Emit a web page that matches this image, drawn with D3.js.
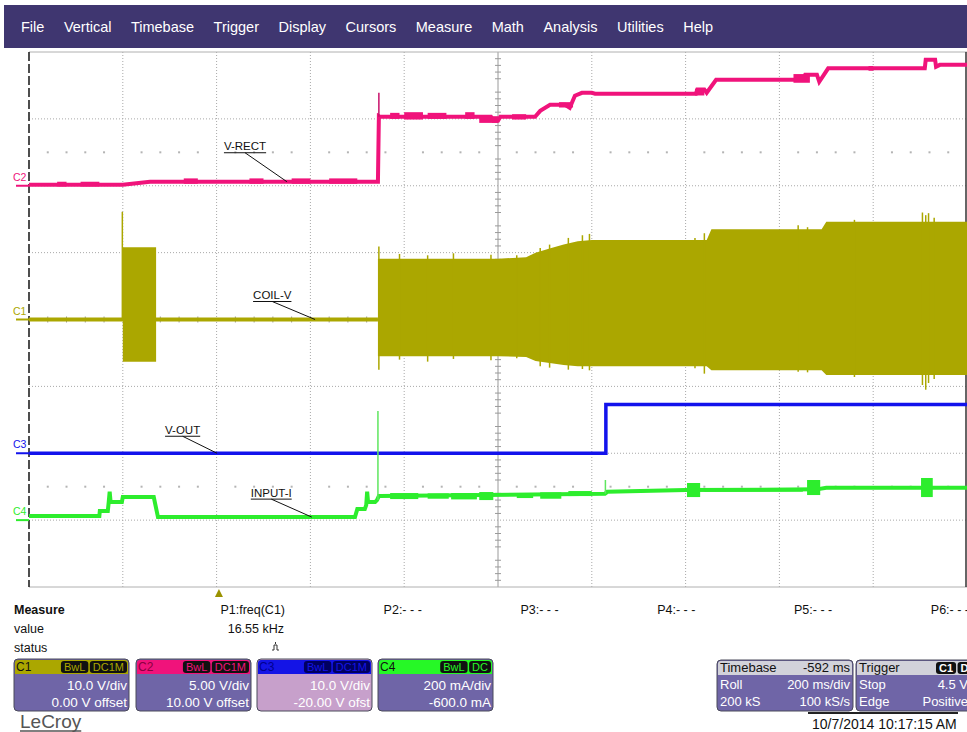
<!DOCTYPE html>
<html><head><meta charset="utf-8">
<script src="https://cdn.jsdelivr.net/npm/d3@7"></script>
<style>
body{margin:0;background:#fff;}
svg{display:block;font-family:"Liberation Sans",Arial,Helvetica,sans-serif;}
</style>
</head><body>
<svg id="c" width="967" height="732"></svg>
<script>
// ---------------- DATA ----------------
const menuItems = ["File","Vertical","Timebase","Trigger","Display","Cursors","Measure","Math","Analysis","Utilities","Help"];

// time in ms across the screen (200 ms/div, 10 div)
const timeDomain = [0, 2000];

// C2  V-RECT (volts)
const vrectT = [0,200,258,744,746,748,985,990,1000,1005,1079,1090,1111,1143,1153,1164,1179,1200,1207,1422,1425,1440,1445,1465,1650,1655,1680,1685,1704,1910,1912,1932,1934,1942,2000];
const vrectV = [0.07,0.07,0.3,0.3,5.2,5.16,5.16,4.86,4.86,5.16,5.16,5.6,6.05,6.05,5.83,6.73,6.95,6.95,6.88,6.88,7.2,7.2,6.95,7.92,7.92,8.3,8.3,7.77,8.78,8.78,9.42,9.42,8.9,9.04,9.04];
const vrectSpikeT = [746];
const vrectSpikeFrom = [5.16];
const vrectSpikeTo = [6.95];
// noisy patches on V-RECT: start, end, high, low (V)
const vrectNoiseStart = [60,110,330,470,560,640,770,800,850,930,960,1030,1130,1420,1630,1790];
const vrectNoiseEnd   = [80,150,360,500,600,700,790,840,890,950,1000,1060,1160,1440,1665,1800];
const vrectNoiseHigh  = [0.3,0.3,0.55,0.55,0.55,0.55,5.45,5.5,5.45,5.5,5.2,5.35,6.25,7.25,8.35,8.95];
const vrectNoiseLow   = [-0.05,-0.05,0.15,0.15,0.15,0.15,5.0,4.95,5.0,5.0,4.7,4.95,5.85,6.75,7.7,8.6];

// C1  COIL-V (volts): baseline, start-up burst, switching envelope, spikes
const coilBaseT = [0, 744];
const coilBaseV = [0, 0];
const coilBurstT = [200, 271];
const coilBurstHi = [10.8, 10.8];
const coilBurstLo = [-6.3, -6.3];
const coilEnvT  = [744,1000,1060,1080,1110,1140,1170,1200,1445,1455,1690,1700,2000];
const coilEnvHi = [9.1,9.1,9.3,10.0,10.6,11.2,11.7,11.9,11.9,13.5,13.5,14.6,14.6];
const coilEnvLo = [-5.5,-5.5,-5.6,-6.2,-6.5,-6.8,-7.0,-7.0,-7.0,-7.6,-7.6,-8.3,-8.3];
const coilSpikeT  = [199,746,790,850,905,985,1040,1090,1110,1150,1180,1195,1420,1440,1640,1660,1760,1905,1912,1918,1930];
const coilSpikeHi = [16.1,10.9,9.8,9.6,9.9,9.7,9.6,10.7,11.2,12.2,12.6,12.8,12.2,12.9,14.1,13.8,14.9,16.0,15.6,15.9,15.2];
const coilSpikeLo = [0,-7.5,-6.0,-6.3,-5.9,-6.1,-5.8,-7.0,-7.2,-7.5,-7.4,-7.6,-7.3,-8.1,-7.8,-7.9,-8.6,-9.8,-10.5,-9.5,-8.9];

// C3  V-OUT (volts)
const voutT = [0, 1230, 1230, 2000];
const voutV = [0, 0, 7.3, 7.3];

// C4  INPUT-I (mA)
const inputT = [0,150,151,168,170,172,174,198,200,266,275,695,700,716,719,721,723,738,742,746,748,1228,1231,1233,1400,1680,1700,2000];
const inputI = [12,12,27,27,54,85,54,54,69,69,9,9,33,33,45,85,54,54,60,72,72,79,82,85,90,92,97,97];
const inputSpikeT = [744, 1229];
const inputSpikeFrom = [60, 79];
const inputSpikeTo = [326, 120];
const inputBlobStart = [770,850,900,960,1040,1090,1150,1403,1440,1659,1700,1902];
const inputBlobEnd   = [830,895,955,990,1075,1135,1200,1431,1650,1687,1890,1927];
const inputBlobHigh  = [81,80,81,84,80,83,87,111,95,120,100,126];
const inputBlobLow   = [63,64,62,60,66,64,72,69,85,75,93,69];

// channel settings
const chNames   = ["C1","C2","C3","C4"];
const chPerDiv  = [10, 5, 10, 200];
const chOffset  = [0, 10, -20, -600];
const chScaleText  = ["10.0 V/div","5.00 V/div","10.0 V/div","200 mA/div"];
const chOffsetText = ["0.00 V offset","10.00 V offset","-20.00 V ofst","-600.0 mA"];
const chBadges = [["BwL","DC1M"],["BwL","DC1M"],["BwL","DC1M"],["BwL","DC"]];

// annotations: label, channel index, time of leader end
const annoText = ["V-RECT","COIL-V","V-OUT","INPUT-I"];
const annoCh   = [1, 0, 2, 3];
const annoT    = [550, 610, 401, 603];

// measurement readouts
const paramLabels = ["P1:freq(C1)","P2:- - -","P3:- - -","P4:- - -","P5:- - -","P6:- - -"];
const paramValues = ["16.55 kHz","","","","",""];
const triggerT = 405;

const timebaseRows = [["Timebase","-592 ms"],["Roll","200 ms/div"],["200 kS","100 kS/s"]];
const triggerRows = [["Trigger",""],["Stop","4.5 V"],["Edge","Positive"]];
const dateText = "10/7/2014 10:17:15 AM";

// ---------------- DRAW ----------------
const svg = d3.select("#c");
const colors = {C1:"#aba700", C2:"#f0137b", C3:"#1212ec", C4:"#2ded2d"};
const chColor = [colors.C1, colors.C2, colors.C3, colors.C4];

const x = d3.scaleLinear().domain(timeDomain).range([29, 967]);
const yDiv = d3.scaleLinear().domain([-4, 4]).range([587, 52]);
const yCh = i => v => yDiv((v + chOffset[i]) / chPerDiv[i]);

// menu bar
svg.append("rect").attr("x",4).attr("y",5).attr("width",963).attr("height",43).attr("fill","#3f3670");
let mx = 21;
menuItems.forEach(m => {
  const t = svg.append("text").attr("x",mx).attr("y",32).attr("fill","#fff").attr("font-size",14.5).text(m);
  mx += t.node().getComputedTextLength() + 19.5;
});

// grid
const g = svg.append("g");
const divsX = d3.range(1, 10);
const divsY = d3.range(-3, 4);
g.selectAll(".vx").data(divsX.filter(d=>d!==5)).join("line")
  .attr("x1",d=>x(d*200)).attr("x2",d=>x(d*200)).attr("y1",52).attr("y2",587)
  .attr("stroke","#a8a8a8").attr("stroke-dasharray","1,2");
g.selectAll(".hy").data(divsY.filter(d=>d!==0)).join("line")
  .attr("y1",d=>yDiv(d)).attr("y2",d=>yDiv(d)).attr("x1",29).attr("x2",967)
  .attr("stroke","#a8a8a8").attr("stroke-dasharray","1,2");
// center axes with ticks
g.append("line").attr("x1",x(1000)).attr("x2",x(1000)).attr("y1",52).attr("y2",587).attr("stroke","#9a9a9a");
g.append("line").attr("y1",yDiv(0)).attr("y2",yDiv(0)).attr("x1",29).attr("x2",967).attr("stroke","#9a9a9a");
g.selectAll(".tky").data(d3.range(-40,41).filter(d=>d%5!==0)).join("line")
  .attr("x1",x(1000)-3).attr("x2",x(1000)+3).attr("y1",d=>yDiv(d/10)).attr("y2",d=>yDiv(d/10))
  .attr("stroke","#9a9a9a");
g.selectAll(".tkx").data(d3.range(0,51).filter(d=>d%5!==0)).join("line")
  .attr("x1",d=>x(d*40)).attr("x2",d=>x(d*40)).attr("y1",yDiv(0)-3).attr("y2",yDiv(0)+3).attr("stroke","#9a9a9a");
// dot rows
[2.5,-2.5].forEach(r=>{
  g.selectAll(null).data(d3.range(1,50).filter(d=>d%5!==0)).join("rect")
    .attr("x",d=>x(d*40)-1).attr("y",yDiv(r)-1).attr("width",2).attr("height",2).attr("fill","#b4b4b4");
});
// frame
g.append("line").attr("x1",29).attr("x2",967).attr("y1",52).attr("y2",52).attr("stroke","#b0b0b0");
g.append("line").attr("x1",29).attr("x2",967).attr("y1",587).attr("y2",587).attr("stroke","#b0b0b0");
g.append("line").attr("x1",29).attr("x2",29).attr("y1",52).attr("y2",587).attr("stroke","#222").attr("stroke-width",1.6).attr("stroke-dasharray","9,3");
g.append("line").attr("x1",966).attr("x2",966).attr("y1",52).attr("y2",587).attr("stroke","#333").attr("stroke-width",1.5);

const zip = (a,b) => a.map((d,i)=>[d,b[i]]);
const lineFor = i => d3.line().x(d=>x(d[0])).y(d=>yCh(i)(d[1]));

// C1 COIL-V
const y1 = yCh(0);
svg.append("path").datum(zip(coilBaseT,coilBaseV)).attr("d",lineFor(0)).attr("fill","none").attr("stroke",colors.C1).attr("stroke-width",4);
const area1 = d3.area().x(d=>x(d[0])).y0(d=>y1(d[2])).y1(d=>y1(d[1]));
svg.append("path").datum(coilBurstT.map((t,i)=>[t,coilBurstHi[i],coilBurstLo[i]])).attr("d",area1).attr("fill",colors.C1);
svg.append("path").datum(coilEnvT.map((t,i)=>[t,coilEnvHi[i],coilEnvLo[i]])).attr("d",area1).attr("fill",colors.C1);
svg.selectAll(".c1s").data(coilSpikeT.map((t,i)=>[t,coilSpikeHi[i],coilSpikeLo[i]])).join("line")
  .attr("x1",d=>x(d[0])).attr("x2",d=>x(d[0])).attr("y1",d=>y1(d[1])).attr("y2",d=>y1(d[2]))
  .attr("stroke",colors.C1).attr("stroke-width",1.5);

// C2 V-RECT
const y2 = yCh(1);
svg.append("path").datum(zip(vrectT,vrectV)).attr("d",lineFor(1)).attr("fill","none").attr("stroke",colors.C2).attr("stroke-width",4);
svg.selectAll(".c2n").data(vrectNoiseStart.map((t,i)=>[t,vrectNoiseEnd[i],vrectNoiseHigh[i],vrectNoiseLow[i]])).join("rect")
  .attr("x",d=>x(d[0])).attr("width",d=>x(d[1])-x(d[0])).attr("y",d=>y2(d[2])).attr("height",d=>y2(d[3])-y2(d[2]))
  .attr("fill",colors.C2);
svg.selectAll(".c2s").data(vrectSpikeT.map((t,i)=>[t,vrectSpikeFrom[i],vrectSpikeTo[i]])).join("line")
  .attr("x1",d=>x(d[0])).attr("x2",d=>x(d[0])).attr("y1",d=>y2(d[1])).attr("y2",d=>y2(d[2]))
  .attr("stroke","#c8106a").attr("stroke-width",1.5);

// C3 V-OUT
svg.append("path").datum(zip(voutT,voutV)).attr("d",lineFor(2)).attr("fill","none").attr("stroke",colors.C3).attr("stroke-width",3.5);

// C4 INPUT-I
const y4 = yCh(3);
svg.append("path").datum(zip(inputT,inputI)).attr("d",lineFor(3)).attr("fill","none").attr("stroke",colors.C4).attr("stroke-width",4);
svg.selectAll(".c4b").data(inputBlobStart.map((t,i)=>[t,inputBlobEnd[i],inputBlobHigh[i],inputBlobLow[i]])).join("rect")
  .attr("x",d=>x(d[0])).attr("width",d=>x(d[1])-x(d[0])).attr("y",d=>y4(d[2])).attr("height",d=>y4(d[3])-y4(d[2]))
  .attr("fill",colors.C4);
svg.selectAll(".c4s").data(inputSpikeT.map((t,i)=>[t,inputSpikeFrom[i],inputSpikeTo[i]])).join("line")
  .attr("x1",d=>x(d[0])).attr("x2",d=>x(d[0])).attr("y1",d=>y4(d[1])).attr("y2",d=>y4(d[2]))
  .attr("stroke","#5fe65f").attr("stroke-width",1.5);

// channel markers on the left
chNames.forEach((n,i)=>{
  const yy = yCh(i)(0);
  svg.append("line").attr("x1",16).attr("x2",29).attr("y1",yy).attr("y2",yy).attr("stroke",chColor[i]).attr("stroke-width",2);
  svg.append("text").attr("x",13).attr("y",yy-5).attr("font-size",10.5).attr("fill",chColor[i]).text(n);
});

// trace annotations
function valueAt(ch, t){
  if(ch===1){ return d3.scaleLinear().domain(vrectT).range(vrectV)(t); }
  if(ch===2){ return t<1230?0:7.3; }
  if(ch===3){ return 9; }
  return 0;
}
const annoDx = [63, 62, 52, 61];
const annoDy = [29, 18, 17, 18];
annoText.forEach((txt,i)=>{
  const ch = annoCh[i];
  const ex = x(annoT[i]);
  const ey = yCh(ch)(valueAt(ch, annoT[i]));
  const t = svg.append("text").attr("font-size",11.5).attr("fill","#111").text(txt);
  const w = t.node().getComputedTextLength();
  const ux = ex - annoDx[i];
  const uy = ey - annoDy[i];
  t.attr("x",ux).attr("y",uy-2.5);
  svg.append("line").attr("x1",ux).attr("x2",ux+w).attr("y1",uy).attr("y2",uy).attr("stroke","#111").attr("stroke-width",1);
  svg.append("line").attr("x1",ux+w/2).attr("y1",uy).attr("x2",ex).attr("y2",ey).attr("stroke","#111").attr("stroke-width",1);
});

// trigger marker
svg.append("path").attr("d",`M${x(triggerT)-4},597 L${x(triggerT)+4},597 L${x(triggerT)},589 Z`).attr("fill","#9a9200");

// Measure area
svg.append("text").attr("x",14).attr("y",614).attr("font-size",12.5).attr("font-weight","bold").attr("fill","#111").text("Measure");
svg.append("text").attr("x",14).attr("y",633).attr("font-size",12.5).attr("fill","#111").text("value");
svg.append("text").attr("x",14).attr("y",652).attr("font-size",12.5).attr("fill","#111").text("status");
paramLabels.forEach((p,i)=>{
  const rx = 285 + i*136.8;
  svg.append("text").attr("x",rx).attr("y",614).attr("text-anchor","end").attr("font-size",12.5).attr("fill","#111").text(p);
  if(paramValues[i]) svg.append("text").attr("x",rx-1).attr("y",633).attr("text-anchor","end").attr("font-size",12.5).attr("fill","#111").text(paramValues[i]);
});
svg.append("path").attr("d","M272,650 h2 v-5 h3 v5 h2").attr("fill","none").attr("stroke","#333").attr("stroke-width",1);
svg.append("line").attr("x1",275.5).attr("x2",275.5).attr("y1",642).attr("y2",644).attr("stroke","#333");

// Channel boxes
const boxX = [14, 136, 257, 378];
const boxW = 115;
const headCol = [colors.C1, colors.C2, "#1414e6", "#26f826"];
const nameCol = ["#111", "#8a0040", "#000090", "#111"];
const badgeText = [colors.C1, colors.C2, "#1414e6", "#26f826"];
const badgeFill = ["#111","#111","#000060","#111"];
const bodyCol = ["#6f65a7","#6f65a7","#c7a0cb","#6f65a7"];
chNames.forEach((n,i)=>{
  const bx = boxX[i], by = 659, bh = 52;
  svg.append("rect").attr("x",bx).attr("y",by).attr("width",boxW).attr("height",bh).attr("rx",4).attr("fill",bodyCol[i]).attr("stroke","#4a4a5a").attr("stroke-width",1);
  svg.append("rect").attr("x",bx+1).attr("y",by+1).attr("width",boxW-2).attr("height",14).attr("rx",3).attr("fill",headCol[i]);
  svg.append("rect").attr("x",bx+1).attr("y",by+8).attr("width",boxW-2).attr("height",7).attr("fill",headCol[i]);
  svg.append("text").attr("x",bx+2).attr("y",by+12).attr("font-size",12).attr("fill",nameCol[i]).text(n);
  let right = bx + boxW - 2;
  chBadges[i].slice().reverse().forEach(b=>{
    const t = svg.append("text").attr("font-size",11).attr("fill",badgeText[i]).attr("text-anchor","middle").text(b);
    const w = t.node().getComputedTextLength() + 6;
    svg.insert("rect", () => t.node()).attr("x",right-w).attr("y",by+2).attr("width",w).attr("height",12).attr("rx",3).attr("fill",badgeFill[i]);
    t.attr("x",right-w/2).attr("y",by+12);
    right -= w + 1.5;
  });
  svg.append("text").attr("x",bx+boxW-2).attr("y",690).attr("text-anchor","end").attr("font-size",13.5).attr("fill","#fff").text(chScaleText[i]);
  svg.append("text").attr("x",bx+boxW-2).attr("y",707).attr("text-anchor","end").attr("font-size",13.5).attr("fill","#fff").text(chOffsetText[i]);
});

// timebase & trigger boxes
function infoBox(bx, bw, rows, badges){
  const by = 660, bh = 51;
  svg.append("rect").attr("x",bx).attr("y",by).attr("width",bw).attr("height",bh).attr("rx",4).attr("fill","#6f65a7").attr("stroke","#4a4a5a");
  svg.append("rect").attr("x",bx+1).attr("y",by+1).attr("width",bw-2).attr("height",14).attr("rx",3).attr("fill","#d2d2da");
  svg.append("rect").attr("x",bx+1).attr("y",by+8).attr("width",bw-2).attr("height",7).attr("fill","#d2d2da");
  rows.forEach((r,j)=>{
    const yy = [672, 689, 706][j];
    const col = j===0 ? "#111" : "#fff";
    svg.append("text").attr("x",bx+3).attr("y",yy).attr("font-size",13).attr("fill",col).text(r[0]);
    if(r[1]) svg.append("text").attr("x",bx+bw-3).attr("y",yy).attr("text-anchor","end").attr("font-size",13).attr("fill",col).text(r[1]);
  });
  if(badges){
    let lx = bx + 80;
    badges.forEach(b=>{
      const t = svg.append("text").attr("font-size",11).attr("font-weight","bold").attr("fill","#fff").attr("text-anchor","middle").text(b);
      const w = t.node().getComputedTextLength() + 6;
      svg.insert("rect", () => t.node()).attr("x",lx).attr("y",by+2).attr("width",w).attr("height",12).attr("rx",3).attr("fill","#111");
      t.attr("x",lx+w/2).attr("y",by+12);
      lx += w + 1.5;
    });
  }
}
infoBox(717, 136, timebaseRows, null);
infoBox(856, 115, triggerRows, ["C1","DC"]);

// date & logo
svg.append("line").attr("x1",808).attr("x2",958).attr("y1",713).attr("y2",713).attr("stroke","#222").attr("stroke-width",2);
svg.append("text").attr("x",812).attr("y",729).attr("font-size",14).attr("fill","#111").text(dateText);
const logo = svg.append("text").attr("x",20).attr("y",728).attr("font-size",19).attr("fill","#555").text("LeCroy");
const lw = logo.node().getComputedTextLength();
svg.append("line").attr("x1",20).attr("x2",20+lw).attr("y1",731).attr("y2",731).attr("stroke","#555").attr("stroke-width",1.5);
</script>
</body></html>
